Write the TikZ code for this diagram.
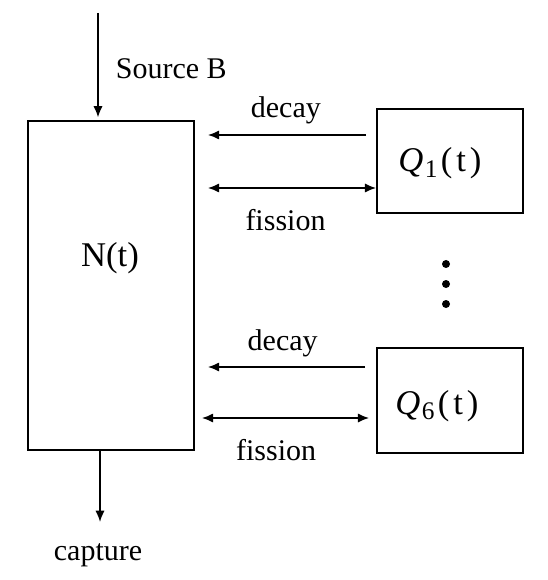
\documentclass[tikz,border=0pt]{standalone}
\usepackage{fontspec}
\setmainfont{Liberation Serif}
\usetikzlibrary{arrows.meta, calc}
\newcommand{\Qsub}[1]{\textit{Q}\kern1pt\raisebox{-0.35ex}{\fontsize{19}{19}\selectfont #1}\kern2.5pt(\kern3pt t\kern3pt)}

\begin{document}
\begin{tikzpicture}[x=0.75pt, y=-0.75pt, >={Latex[length=8.5pt, width=7pt]}, line width=1.3pt,
		Box/.style={draw, rectangle, inner sep=0pt},
		Lbl/.style={font=\fontsize{22.5}{26}\selectfont, inner sep=0pt},
		Big/.style={font=\fontsize{26}{30}\selectfont, inner sep=0pt}]
		\useasboundingbox (0,0) rectangle (547,580);
		% neutron box and precursor boxes
		\node[Box, minimum width=124.5pt, minimum height=246.75pt] (Nbox) at (111,285.5) {};
		\node[Big, anchor=base] (Ntxt) at (110,267) {N(t)};
		\node[Box, minimum width=109.5pt, minimum height=78pt] (Q1) at (450,161) {};
		\node[Big, anchor=base] (Q1txt) at (440,172) {\Qsub{1}};
		\node[Box, minimum width=109.5pt, minimum height=78.75pt] (Q6) at (450,400.5) {};
		\node[Big, anchor=base] (Q6txt) at (437,414) {\Qsub{6}};
		% source and capture
		\coordinate (src) at (98,13);
		\draw[->, shorten >=2pt] (src) -- (src |- Nbox.north);
		\node[Lbl, anchor=base west] (srctxt) at (115,79) {Source B};
		\coordinate (cap) at (100,522);
		\draw[->] (cap |- Nbox.south) -- (cap);
		\node[Lbl, anchor=base] (captxt) at (98,560) {capture};
		% group 1
		\coordinate (d1) at ($(Q1.west)+(-10,-26)$);
		\draw[->, shorten >=9.75pt] (d1) -- (d1 -| Nbox.east) node[midway, Lbl, anchor=base, yshift=12.75pt, xshift=4pt]{decay};
		\coordinate (f1) at ($(Q1.west)+(0,27)$);
		\draw[<->, shorten <=9.75pt] (f1 -| Nbox.east) -- (f1) node[midway, Lbl, anchor=base, yshift=-32.25pt]{fission};
		% group 6
		\coordinate (d6) at ($(Q6.west)+(-11,-33.5)$);
		\draw[->, shorten >=9.75pt] (d6) -- (d6 -| Nbox.east) node[midway, Lbl, anchor=base, yshift=12.75pt, xshift=2pt]{decay};
		\coordinate (f6) at ($(Q6.west)+(0,17.5)$);
		\draw[<->, shorten <=5.25pt, shorten >=5.25pt] (f6 -| Nbox.east) -- (f6) node[midway, Lbl, anchor=base, yshift=-31.5pt, xshift=-7pt]{fission};
		% dots between groups
		\foreach \y in {264,284,304} \fill (446,\y) circle (3pt);
\end{tikzpicture}
\end{document}
